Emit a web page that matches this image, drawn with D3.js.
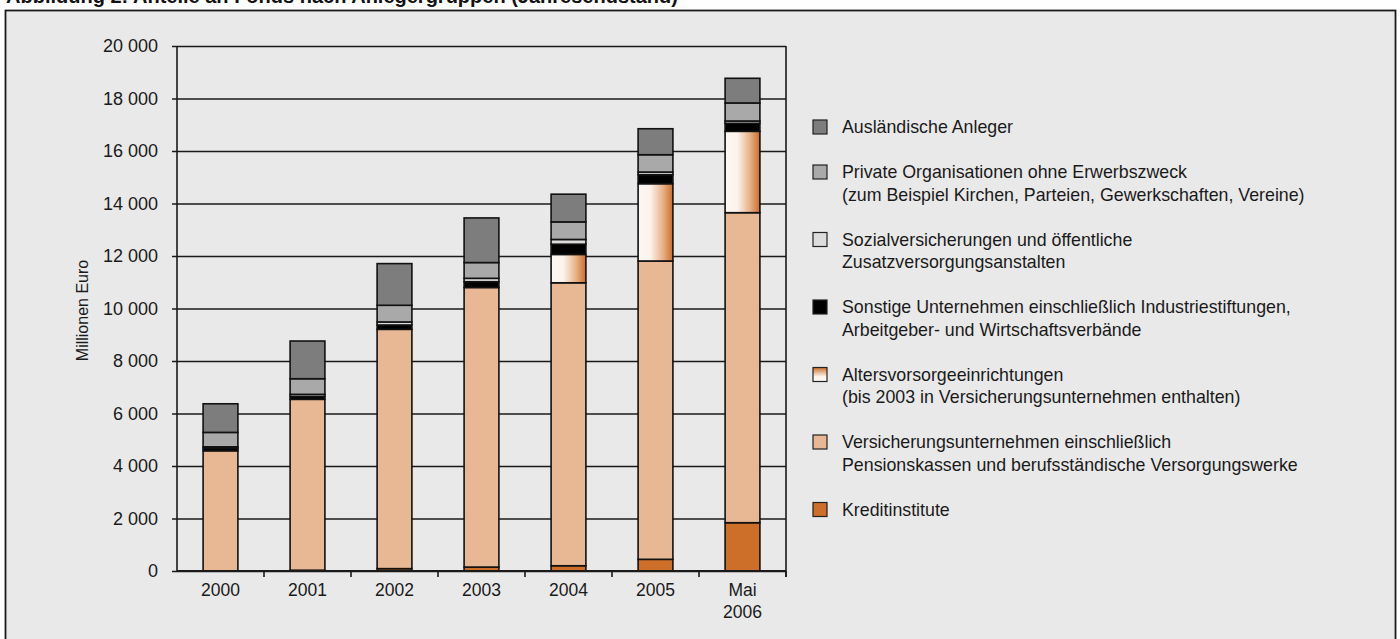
<!DOCTYPE html>
<html>
<head>
<meta charset="utf-8">
<script src="https://cdn.jsdelivr.net/npm/d3@7"></script>
<style>
  body { margin: 0; background: #fff; }
  svg { display: block; font-family: 'Liberation Sans', Arial, sans-serif; }
  .axis path, .axis line { stroke: #1a1a1a; }
  .axis text { fill: #1a1a1a; }
</style>
</head>
<body>
<svg width="1400" height="639"></svg>
<script>
// data
const years = ['2000', '2001', '2002', '2003', '2004', '2005', 'Mai 2006']
const kredit       = [0, 30, 90, 150, 200, 445, 1840]
const versicherung = [4580, 6510, 9117, 10650, 10780, 11365, 11810]
const alters       = [0, 0, 0, 0, 1080, 2945, 3100]
const sonstige     = [90, 110, 165, 220, 390, 343, 305]
const sozial       = [60, 80, 115, 130, 180, 100, 88]
const privat       = [550, 595, 636, 600, 670, 660, 687]
const auslaender   = [1090, 1436, 1587, 1700, 1055, 990, 940]
const yTicks = [0, 2000, 4000, 6000, 8000, 10000, 12000, 14000, 16000, 18000, 20000]

// series, stacking bottom -> top
const series = [
  { key: 'kredit', values: kredit, label: ['Kreditinstitute'], fill: '#cd6e29' },
  { key: 'versicherung', values: versicherung, label: ['Versicherungsunternehmen einschließlich', 'Pensionskassen und berufsständische Versorgungswerke'], fill: '#e8b794' },
  { key: 'alters', values: alters, label: ['Altersvorsorgeeinrichtungen', '(bis 2003 in Versicherungsunternehmen enthalten)'], fill: 'url(#gradBar)', legendFill: 'url(#gradLegend)' },
  { key: 'sonstige', values: sonstige, label: ['Sonstige Unternehmen einschließlich Industriestiftungen,', 'Arbeitgeber- und Wirtschaftsverbände'], fill: '#000000' },
  { key: 'sozial', values: sozial, label: ['Sozialversicherungen und öffentliche', 'Zusatzversorgungsanstalten'], fill: '#dcdcdc' },
  { key: 'privat', values: privat, label: ['Private Organisationen ohne Erwerbszweck', '(zum Beispiel Kirchen, Parteien, Gewerkschaften, Vereine)'], fill: '#a9a9a9' },
  { key: 'auslaender', values: auslaender, label: ['Ausländische Anleger'], fill: '#7d7d7d' }
]

// dimensions
const margin = { top: 46, left: 177, right: 614, bottom: 68 }
const svgW = 1400
const svgH = 639
const width = svgW - margin.left - margin.right
const height = svgH - margin.top - margin.bottom

const $svg = d3.select('svg')

const table = years.map((y, i) => {
  const row = { year: y }
  series.forEach(s => { row[s.key] = s.values[i] })
  return row
})

const stacked = d3.stack().keys(series.map(s => s.key))(table)

const scaleX = d3.scaleBand().domain(years).range([0, width]).paddingInner(0.6).paddingOuter(0.3)
const scaleY = d3.scaleLinear().domain([0, 20000]).range([height, 0])

function defs(){
  const $defs = $svg.append('defs')
  const gb = $defs.append('linearGradient').attr('id', 'gradBar')
    .attr('x1', 0).attr('x2', 1).attr('y1', 0).attr('y2', 0)
  gb.append('stop').attr('offset', '0%').attr('stop-color', '#fdf7f2')
  gb.append('stop').attr('offset', '35%').attr('stop-color', '#fcf3ec')
  gb.append('stop').attr('offset', '70%').attr('stop-color', '#e8b48c')
  gb.append('stop').attr('offset', '100%').attr('stop-color', '#cd6e29')

  const gl = $defs.append('linearGradient').attr('id', 'gradLegend')
    .attr('x1', 0).attr('x2', 0).attr('y1', 1).attr('y2', 0)
  gl.append('stop').attr('offset', '0%').attr('stop-color', '#fdf7f2')
  gl.append('stop').attr('offset', '35%').attr('stop-color', '#fcf3ec')
  gl.append('stop').attr('offset', '100%').attr('stop-color', '#cd6e29')
}

function frame(){
  $svg.append('rect')
    .attr('x', 5.5).attr('y', 10.5)
    .attr('width', 1390).attr('height', 660)
    .attr('fill', '#e9e9e9')
    .attr('stroke', '#1a1a1a')
    .attr('stroke-width', 1.8)

  // title, mostly cut off at the top edge (as in the source)
  $svg.append('text')
    .attr('x', 6).attr('y', 3)
    .style('font-size', '20px')
    .style('font-weight', 700)
    .attr('fill', '#111')
    .text('Abbildung 2: Anteile an Fonds nach Anlegergruppen (Jahresendstand)')
}

function render(){
  const $g = $svg.append('g').attr('transform', `translate(${margin.left}, ${margin.top})`)

  // gridlines + y axis
  const $yAxis = $g.append('g').attr('class', 'axis')
    .call(d3.axisLeft(scaleY)
      .tickValues(yTicks)
      .tickSize(-width)
      .tickPadding(19)
      .tickFormat(d => d3.format(',')(d).replace(/,/g, ' ')))
  $yAxis.select('.domain').remove()
  $yAxis.selectAll('line').attr('x1', -5).attr('stroke-width', 1.6)
  $yAxis.selectAll('text').style('font-size', '18px')

  // right border of plot
  $g.append('line')
    .attr('x1', width).attr('x2', width)
    .attr('y1', 0).attr('y2', height + 6)
    .attr('stroke', '#1a1a1a').attr('stroke-width', 1.6)

  // left axis line
  $g.append('line')
    .attr('x1', 0).attr('x2', 0)
    .attr('y1', 0).attr('y2', height)
    .attr('stroke', '#1a1a1a').attr('stroke-width', 1.6)

  // bars
  const layers = $g.selectAll('.layer')
    .data(stacked)
    .enter()
    .append('g')
    .attr('class', 'layer')
    .attr('fill', (d, i) => series[i].fill)

  layers.selectAll('rect')
    .data(d => d.filter(p => p[1] - p[0] > 0))
    .enter()
    .append('rect')
    .attr('x', d => scaleX(d.data.year))
    .attr('width', scaleX.bandwidth())
    .attr('y', d => scaleY(d[1]))
    .attr('height', d => scaleY(d[0]) - scaleY(d[1]))
    .attr('stroke', '#111')
    .attr('stroke-width', 1.6)

  // x axis
  const boundaries = d3.range(1, years.length + 1).map(i => i * width / years.length)
  const $xAxis = $g.append('g').attr('class', 'axis')
    .attr('transform', `translate(0, ${height})`)
  $xAxis.append('line')
    .attr('x1', 0).attr('x2', width)
    .attr('stroke', '#1a1a1a').attr('stroke-width', 1.8)
  $xAxis.selectAll('.tick')
    .data(boundaries)
    .enter()
    .append('line')
    .attr('x1', d => d).attr('x2', d => d)
    .attr('y1', 0).attr('y2', 6)
    .attr('stroke', '#1a1a1a').attr('stroke-width', 1.6)

  $xAxis.selectAll('.xlabel')
    .data(years)
    .enter()
    .append('text')
    .attr('class', 'xlabel')
    .attr('text-anchor', 'middle')
    .attr('fill', '#1a1a1a')
    .style('font-size', '17.5px')
    .attr('transform', d => `translate(${scaleX(d) + scaleX.bandwidth() / 2}, 25)`)
    .each(function(d){
      const parts = d.split(' ')
      d3.select(this).selectAll('tspan')
        .data(parts)
        .enter()
        .append('tspan')
        .attr('x', 0)
        .attr('dy', (p, i) => i === 0 ? 0 : 22)
        .text(p => p)
    })

  // y label
  $svg.append('text')
    .attr('transform', `translate(88, ${margin.top + height / 2 + 2}) rotate(-90)`)
    .attr('text-anchor', 'middle')
    .attr('fill', '#1a1a1a')
    .style('font-size', '16px')
    .text('Millionen Euro')
}

function legend(){
  const items = series.slice().reverse()
  const lineH = 22.5
  const gap = 45
  let y = 127
  const $leg = $svg.append('g').attr('class', 'legend')

  items.forEach(s => {
    const $item = $leg.append('g').attr('transform', `translate(813, ${y})`)
    $item.append('rect')
      .attr('x', 0).attr('y', -7)
      .attr('width', 14).attr('height', 14)
      .attr('fill', s.legendFill || s.fill)
      .attr('stroke', '#222')
      .attr('stroke-width', 1.2)
    s.label.forEach((t, i) => {
      $item.append('text')
        .attr('x', 29)
        .attr('y', i * lineH)
        .attr('dy', '0.35em')
        .attr('fill', '#1a1a1a')
        .style('font-size', '17.8px')
        .text(t)
    })
    y += (s.label.length - 1) * lineH + gap
  })
}

defs()
frame()
render()
legend()
</script>
</body>
</html>
